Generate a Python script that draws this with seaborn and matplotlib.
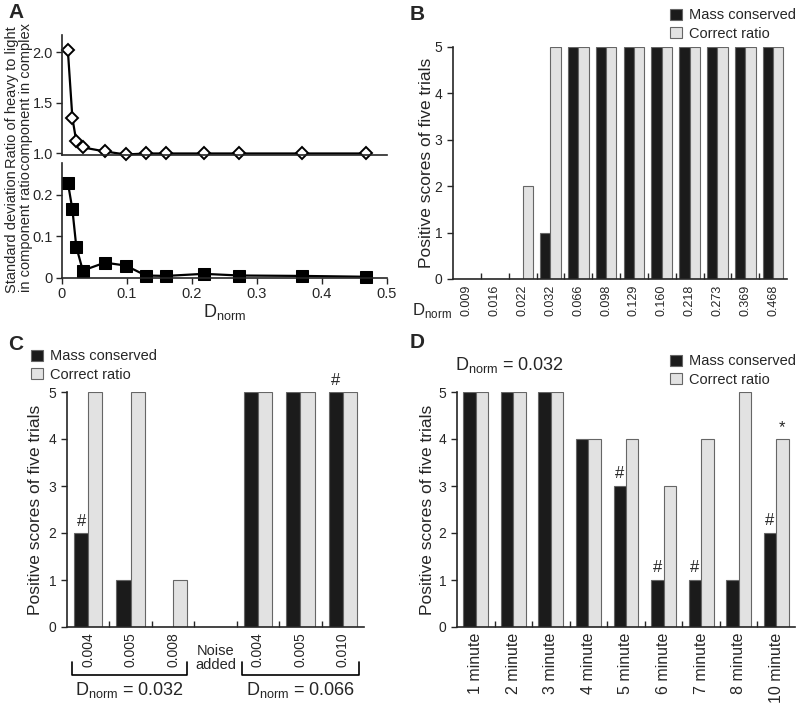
import numpy as np
import pandas as pd
import matplotlib
matplotlib.use("Agg")
import matplotlib.pyplot as plt
import seaborn as sns

sns.set_style("ticks")
plt.rcParams['font.family'] = ['Liberation Sans', 'DejaVu Sans']
plt.rcParams['axes.linewidth'] = 1.2

# ---- panel A data
a_dnorm = [0.009, 0.016, 0.022, 0.032, 0.066, 0.098, 0.129, 0.160, 0.218, 0.273, 0.369, 0.468]
a_ratio = [2.02, 1.35, 1.12, 1.06, 1.02, 0.99, 1.00, 1.00, 1.00, 1.00, 1.00, 1.00]
a_sd = [0.230, 0.165, 0.075, 0.018, 0.037, 0.030, 0.006, 0.005, 0.010, 0.006, 0.005, 0.003]

# ---- panel B data
b_labels = ['0.009', '0.016', '0.022', '0.032', '0.066', '0.098',
            '0.129', '0.160', '0.218', '0.273', '0.369', '0.468']
b_mass = [0, 0, 0, 1, 5, 5, 5, 5, 5, 5, 5, 5]
b_correct = [0, 0, 2, 5, 5, 5, 5, 5, 5, 5, 5, 5]

# ---- panel C data
c_groups = ['a0.004', 'a0.005', 'a0.008', 'noise', 'b0.004', 'b0.005', 'b0.010']
c_labels = ['0.004', '0.005', '0.008', '', '0.004', '0.005', '0.010']
c_mass = [2, 1, 0, 0, 5, 5, 5]
c_correct = [5, 5, 1, 0, 5, 5, 5]

# ---- panel D data
d_labels = ['1 minute', '2 minute', '3 minute', '4 minute', '5 minute',
            '6 minute', '7 minute', '8 minute', '10 minute']
d_mass = [5, 5, 5, 4, 3, 1, 1, 1, 2]
d_correct = [5, 5, 5, 4, 4, 3, 4, 5, 4]

series = ['Mass conserved', 'Correct ratio']
palette = {'Mass conserved': '#1b1b1b', 'Correct ratio': '#e2e2e2'}
DN = r'D$_\mathregular{norm}$'

fig = plt.figure(figsize=(8, 7.1), dpi=100)


def px_axes(left, top, right, bottom):
    return fig.add_axes([left / 800, 1 - bottom / 710, (right - left) / 800, (bottom - top) / 710])


def bar_panel(ax, groups, labels, mass, correct, width, tick_size, rot=90):
    n = len(groups)
    df = pd.DataFrame({'group': groups * 2,
                       'series': [series[0]] * n + [series[1]] * n,
                       'score': mass + correct})
    sns.barplot(data=df, x='group', y='score', hue='series', order=groups,
                hue_order=series, palette=palette, width=width,
                edgecolor='#666666', linewidth=0.8, ax=ax)
    ax.set_xlim(-0.5, n - 0.5)
    ax.set_ylim(0, 5)
    ax.set_yticks(range(6))
    ax.tick_params(axis='y', labelsize=10, length=4, width=1, direction='out')
    ax.set_xticks(range(n))
    ax.set_xticklabels(labels, rotation=rot, fontsize=tick_size)
    ax.tick_params(axis='x', which='major', length=0, pad=4)
    ax.set_xticks(np.arange(n - 1) + 0.5, minor=True)
    ax.tick_params(axis='x', which='minor', length=4, width=1, direction='in')
    ax.set_xlabel('')
    ax.set_ylabel('Positive scores of five trials', fontsize=12.5)
    sns.despine(ax=ax)


# ---------------- A
axa1 = px_axes(62, 35, 387, 155)
axa2 = px_axes(62, 163, 387, 278)
sns.lineplot(x=a_dnorm, y=a_ratio, ax=axa1, color='black', linewidth=1.6,
             marker='D', markersize=6.5, markerfacecolor='white',
             markeredgecolor='black', markeredgewidth=1.4, clip_on=False)
sns.lineplot(x=a_dnorm, y=a_sd, ax=axa2, color='black', linewidth=1.6,
             marker='s', markersize=8, markerfacecolor='black',
             markeredgecolor='black', clip_on=False)
for ax in (axa1, axa2):
    ax.set_xlim(0, 0.5)
    sns.despine(ax=ax)
    ax.tick_params(labelsize=10.5, length=4, width=1, pad=2.5)
axa1.set_ylim(0.985, 2.17)
axa1.set_yticks([1.0, 1.5, 2.0])
axa1.set_yticklabels(['1.0', '1.5', '2.0'])
axa1.set_xticks([])
axa1.set_ylabel('')
fig.text(19 / 800, 1 - 97 / 710, 'Ratio of heavy to light\ncomponent in complex',
         rotation=90, ha='center', va='center', fontsize=10.5, linespacing=1.05)
axa2.set_ylim(0, 0.277)
axa2.set_yticks([0, 0.1, 0.2])
axa2.set_yticklabels(['0', '0.1', '0.2'])
axa2.set_xticks([0, 0.1, 0.2, 0.3, 0.4, 0.5])
axa2.set_xticklabels(['0', '0.1', '0.2', '0.3', '0.4', '0.5'])
axa2.set_ylabel('')
fig.text(19 / 800, 1 - 232 / 710, 'Standard deviation\nin component ratio',
         rotation=90, ha='center', va='center', fontsize=10.5, linespacing=1.05)
axa2.set_xlabel(DN, fontsize=13, labelpad=1)

# ---------------- B
axb = px_axes(453, 47, 787, 279)
bar_panel(axb, b_labels, b_labels, b_mass, b_correct, 0.74, 9)
axb.yaxis.set_label_coords(-0.057, 0.5)
fig.text(432 / 800, 1 - 310 / 710, DN, fontsize=12, ha='center', va='center')

# ---------------- C
axc = px_axes(67, 392, 364, 627)
bar_panel(axc, c_groups, c_labels, c_mass, c_correct, 0.67, 10)
axc.yaxis.set_label_coords(-0.081, 0.5)
tr = axc.get_xaxis_transform()
axc.text(3, -0.13, 'Noise\nadded', transform=tr, ha='center', va='center',
         fontsize=10.5, linespacing=1.0)
for x0, x1, lab in [(-0.38, 2.33, DN + ' = 0.032'), (3.63, 6.39, DN + ' = 0.066')]:
    axc.plot([x0, x0, x1, x1], [-0.15, -0.205, -0.205, -0.15], transform=tr,
             color='black', linewidth=1.2, clip_on=False)
    axc.text((x0 + x1) / 2, -0.27, lab, transform=tr, ha='center', va='center', fontsize=13)
for i, v in [(0, c_mass[0]), (6, c_mass[6])]:
    axc.text(i - 0.67 / 4, v + 0.08, '#', ha='center', va='bottom', fontsize=12)

# ---------------- D
axd = px_axes(457, 392, 795, 627)
bar_panel(axd, d_labels, d_labels, d_mass, d_correct, 0.66, 11.5)
axd.yaxis.set_label_coords(-0.065, 0.5)
for i in [4, 5, 6, 8]:
    axd.text(i - 0.66 / 4, d_mass[i] + 0.1, '#', ha='center', va='bottom', fontsize=12)
axd.text(8 + 0.66 / 4, d_correct[8] + 0.08, '*', ha='center', va='bottom', fontsize=12)
fig.text(455 / 800, 1 - 365 / 710, DN + ' = 0.032', fontsize=13, ha='left', va='center')

# legends
leg_kw = dict(title=None, frameon=False, handlelength=0.8, handleheight=0.8,
              handletextpad=0.45, labelspacing=0.3, borderpad=0, fontsize=10.5,
              bbox_transform=fig.transFigure)
sns.move_legend(axb, 'upper left', bbox_to_anchor=(663 / 800, 1 - 1 / 710), **leg_kw)
sns.move_legend(axc, 'upper left', bbox_to_anchor=(24 / 800, 1 - 342 / 710), **leg_kw)
sns.move_legend(axd, 'upper left', bbox_to_anchor=(663 / 800, 1 - 347 / 710), **leg_kw)

# panel letters
for x, y, s in [(8, 12, 'A'), (410, 14, 'B'), (8, 345, 'C'), (410, 343, 'D')]:
    fig.text(x / 800, 1 - y / 710, s, fontsize=15, fontweight='bold', ha='left', va='center')

fig.savefig('out.png', dpi=100)
